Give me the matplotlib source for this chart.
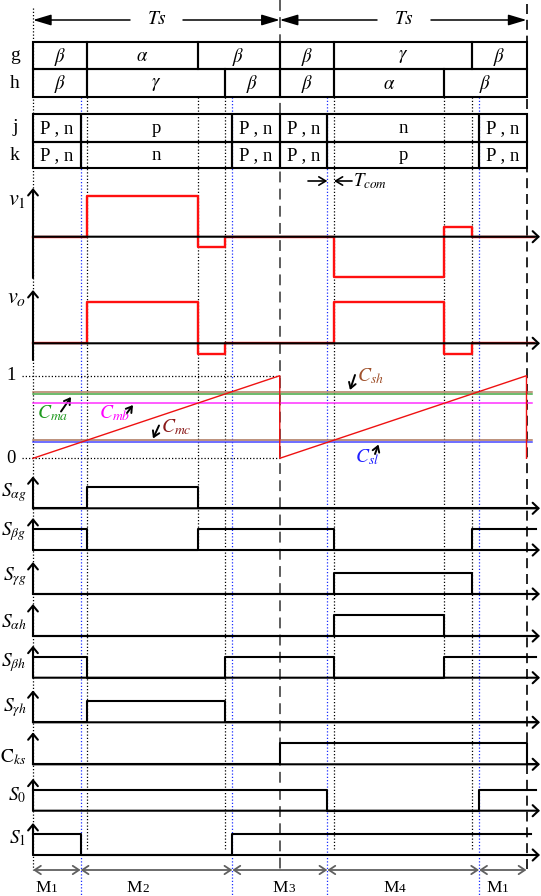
import matplotlib
matplotlib.use("Agg")
import matplotlib.pyplot as plt
from matplotlib.patches import Rectangle

plt.rcParams["font.family"] = ["Liberation Serif", "DejaVu Serif"]
plt.rcParams["mathtext.fontset"] = "stix"

# ---------------- data ----------------
# comparison levels against the unit sawtooth
C_sl, C_mc, C_mb, C_ma, C_sh = 0.193, 0.22, 0.667, 0.78, 0.808
carrier_levels = [C_sh, C_ma, C_mb, C_mc, C_sl]
carrier_colors = ["#b07d60", "#44a844", "#ff30ff", "#aa7358", "#4646ff"]

# sawtooth over two switching periods (time in Ts)
saw_t = [0, 1, 1, 2, 2]
saw_v = [0, 1, 0, 1, 0]

# sector tables
g_edges = [0, C_mc, C_mb, 1, 1 + C_mc, 1 + C_ma, 2]
g_cells = [r"$\beta$", r"$\alpha$", r"$\beta$", r"$\beta$", r"$\gamma$", r"$\beta$"]
h_edges = [0, C_mc, C_ma, 1, 1 + C_mc, 1 + C_mb, 2]
h_cells = [r"$\beta$", r"$\gamma$", r"$\beta$", r"$\beta$", r"$\alpha$", r"$\beta$"]
jk_edges = [0, C_sl, C_sh, 1, 1 + C_sl, 1 + C_sh, 2]
j_cells = ["P , n", "p", "P , n", "P , n", "n", "P , n"]
k_cells = ["P , n", "n", "P , n", "P , n", "p", "P , n"]

# voltages (per unit), one value per interval
v_edges = [0, C_mc, C_mb, C_ma, 1, 1 + C_mc, 1 + C_mb, 1 + C_ma, 2.03]
v1_vals = [0, 1, -0.25, 0, 0, -1, 0.25, 0]
vo_vals = [0, 1, -0.25, 0, 0, 1, -0.25, 0]

# switching functions
T_END = 2.04
sw_names = [r"$S_{\alpha g}$", r"$S_{\beta g}$", r"$S_{\gamma g}$",
            r"$S_{\alpha h}$", r"$S_{\beta h}$", r"$S_{\gamma h}$",
            r"$\mathrm{C}_{ks}$", r"$S_{0}$", r"$S_{1}$"]
sw_edges = [[0, C_mc, C_mb, T_END],
            [0, C_mc, C_mb, 1 + C_mc, 1 + C_ma, T_END],
            [0, 1 + C_mc, 1 + C_ma, T_END],
            [0, 1 + C_mc, 1 + C_mb, T_END],
            [0, C_mc, C_ma, 1 + C_mc, 1 + C_mb, T_END],
            [0, C_mc, C_ma, T_END],
            [0, 1, 2, T_END],
            [0, 1 + C_sl, 1 + C_sh, T_END],
            [0, C_sl, C_sh, 2.02]]
sw_levels = [[0, 1, 0], [1, 0, 1, 0, 1], [0, 1, 0], [0, 1, 0],
             [1, 0, 1, 0, 1], [0, 1, 0], [0, 1, 0], [1, 0, 1], [1, 0, 1]]

# operating modes
mode_edges = [0, C_sl, C_sh, 1 + C_sl, 1 + C_sh, 2]
mode_ids = ["1", "2", "3", "4", "1"]

# ---------------- layout ----------------
W, H = 541, 896
T0_PX, TS_PX = 33.0, 246.75


def px(x):
    return (x - T0_PX) / TS_PX


XLIM = (px(0), px(W))
T_ARROW = px(540)

fig = plt.figure(figsize=(W / 100, H / 100), dpi=100)

ax = fig.add_axes([0, 0, 1, 1])
ax.set_xlim(XLIM)
ax.set_ylim(H, 0)
ax.set_axis_off()

DOT = (0, (1, 1.6))

# time reference lines
ax.plot([0, 0], [8, 870], color="k", lw=0.9, ls=DOT, zorder=1)
ax.plot([1, 1], [0, 873], color="#505050", lw=1.3, ls=(0, (6, 3.5)), zorder=1)
ax.plot([2, 2], [4, 873], color="k", lw=1.2, ls=(0, (6, 3.5)), zorder=1)
black_guides = [(C_mc, 850), (C_mb, 550), (C_ma, 850),
                (1 + C_mc, 850), (1 + C_mb, 678), (1 + C_ma, 850)]
for t, yb in black_guides:
    ax.plot([t, t], [97, yb], color="k", lw=0.9, ls=DOT, zorder=1)
for t in [C_sl, C_sh, 1 + C_sl, 1 + C_sh]:
    ax.plot([t, t], [97, 896], color="#1a2cff", lw=0.9, ls=DOT, zorder=1)

# period arrows
for p0, gap0, gap1, p1 in [(0, px(130), px(183), 1), (1, px(377), px(431), 2)]:
    for a, b in [(gap0, p0), (gap1, p1)]:
        ax.annotate("", xy=(b, 20), xytext=(a, 20),
                    arrowprops=dict(arrowstyle="-|>,head_length=1.1,head_width=0.33",
                                    color="k", lw=1.1, shrinkA=0, shrinkB=0))
    ax.text((gap0 + gap1) / 2, 20, r"$Ts$", ha="center", va="center", fontsize=14)


def table_row(edges, cells, top, bottom):
    for a, b, s in zip(edges[:-1], edges[1:], cells):
        ax.add_patch(Rectangle((a, top), b - a, bottom - top, fill=False,
                               ec="k", lw=1.5, zorder=3))
        ax.text((a + b) / 2, (top + bottom) / 2 + 1, s, ha="center", va="center",
                fontsize=13.5, zorder=4)


table_row(g_edges, g_cells, 42.3, 69.3)
table_row(h_edges, h_cells, 69.3, 97.3)
table_row(jk_edges, j_cells, 114, 141.7)
table_row(jk_edges, k_cells, 141.7, 168.3)
for s, y in zip(["g", "h", "j", "k"], [55.8, 83.3, 128, 155]):
    ax.text(px(15), y, s, ha="center", va="center", fontsize=14)

# commutation interval
ax.annotate("", xy=(1 + C_sl, 181), xytext=(px(308), 181),
            arrowprops=dict(arrowstyle="->,head_length=0.5,head_width=0.3",
                            color="k", lw=1.2, shrinkA=0, shrinkB=0))
ax.annotate("", xy=(1 + C_mc, 181), xytext=(px(352), 181),
            arrowprops=dict(arrowstyle="->,head_length=0.5,head_width=0.3",
                            color="k", lw=1.2, shrinkA=0, shrinkB=0))
ax.text(px(353), 186, r"$T_{com}$", ha="left", va="baseline", fontsize=13.5)

# mode arrows
for a, b in zip(mode_edges[:-1], mode_edges[1:]):
    ax.annotate("", xy=(b, 870), xytext=(a, 870),
                arrowprops=dict(arrowstyle="<->,head_length=0.45,head_width=0.3",
                                color="#606060", lw=1.3, shrinkA=0, shrinkB=0))
for m, xl in zip(mode_ids, [51, 142, 288, 399, 502]):
    ax.text(px(xl), 892, "M", ha="right", va="baseline", fontsize=12.5)
    ax.text(px(xl), 892, m, ha="left", va="baseline", fontsize=9.5)


def strip(top, bottom, zero, unit):
    a = fig.add_axes([0, 1 - bottom / H, 1, (bottom - top) / H])
    a.set_xlim(XLIM)
    a.set_ylim((zero - bottom) / unit, (zero - top) / unit)
    a.set_axis_off()
    a.patch.set_alpha(0)
    return a


def axes_arrows(a, v_tip, v_foot):
    a.annotate("", xy=(0, v_tip), xytext=(0, v_foot),
               arrowprops=dict(arrowstyle="->,head_length=0.42,head_width=0.35",
                               color="k", lw=1.5, shrinkA=0, shrinkB=0))
    a.annotate("", xy=(T_ARROW, 0), xytext=(0, 0),
               arrowprops=dict(arrowstyle="->,head_length=0.42,head_width=0.4",
                               color="k", lw=1.5, shrinkA=0, shrinkB=0))


def stepped(edges, vals):
    return list(edges), list(vals) + [vals[-1]]


# v1 and vo
for vals, zero, unit, tip, foot, lab, ly in [
        (v1_vals, 236.7, 40.3, 188, 278, r"$v_1$", 201),
        (vo_vals, 343.3, 41.6, 290, 360, r"$v_o$", 299)]:
    a = strip(tip - 8, foot + 4, zero, unit)
    x, y = stepped(v_edges, vals)
    a.plot(x, y, drawstyle="steps-post", color="#ff1010", lw=1.7)
    axes_arrows(a, (zero - tip) / unit, (zero - foot) / unit)
    ax.text(px(17), ly, lab, ha="center", va="center", fontsize=16)

# sawtooth and comparison levels
r = strip(368, 470, 458.3, 82.6)
for lvl, c in zip(carrier_levels, carrier_colors):
    r.plot([0, px(532)], [lvl, lvl], color=c, lw=1.1)
r.plot([px(22), 1], [1, 1], color="k", lw=0.9, ls=DOT)
r.plot([px(22), 1], [0, 0], color="k", lw=0.9, ls=DOT)
r.plot(saw_t, saw_v, color="#ee1111", lw=1.0)
r.text(px(11), 1, "1", ha="center", va="center", fontsize=13.5)
r.text(px(11), 0, "0", ha="center", va="center", fontsize=13.5)

carrier_labels = [
    (r"$C_{ma}$", "#1f9a1f", 37, 413, (61, 411.5), (71, 397)),
    (r"$C_{mb}$", "#ff00ff", 99, 413, (127, 413), (133, 405)),
    (r"$C_{mc}$", "#8b1a1a", 161, 427, (159, 425.5), (153, 438.5)),
    (r"$C_{sh}$", "#a0522d", 357, 376, (355, 375), (350, 390)),
    (r"$C_{sl}$", "#2020ff", 355, 457, (375, 454), (378.5, 444.5)),
]
for s, c, xl, yl, p0, p1 in carrier_labels:
    ax.text(px(xl), yl, s, color=c, ha="left", va="center", fontsize=14, zorder=6)
    ax.annotate("", xy=(px(p1[0]), p1[1]), xytext=(px(p0[0]), p0[1]),
                arrowprops=dict(arrowstyle="->,head_length=0.4,head_width=0.25",
                                color="k", lw=1.4, shrinkA=0, shrinkB=0), zorder=6)

# switching functions
sw_base = [508.3, 550, 594, 636, 677.7, 722.3, 764.3, 810.7, 855]
sw_label_y = [493, 532, 577, 622, 663, 708, 757, 795, 838]
SW_UNIT = 21.0
for name, edges, lv, base, ly in zip(sw_names, sw_edges, sw_levels, sw_base, sw_label_y):
    a = strip(base - 38, base + 4, base, SW_UNIT)
    x, y = stepped(edges, lv)
    a.plot(x, y, drawstyle="steps-post", color="k", lw=1.5)
    axes_arrows(a, 32 / SW_UNIT, 0)
    ax.text(px(26.5), ly, name, ha="right", va="center", fontsize=14)

fig.savefig("out.png", dpi=100)
